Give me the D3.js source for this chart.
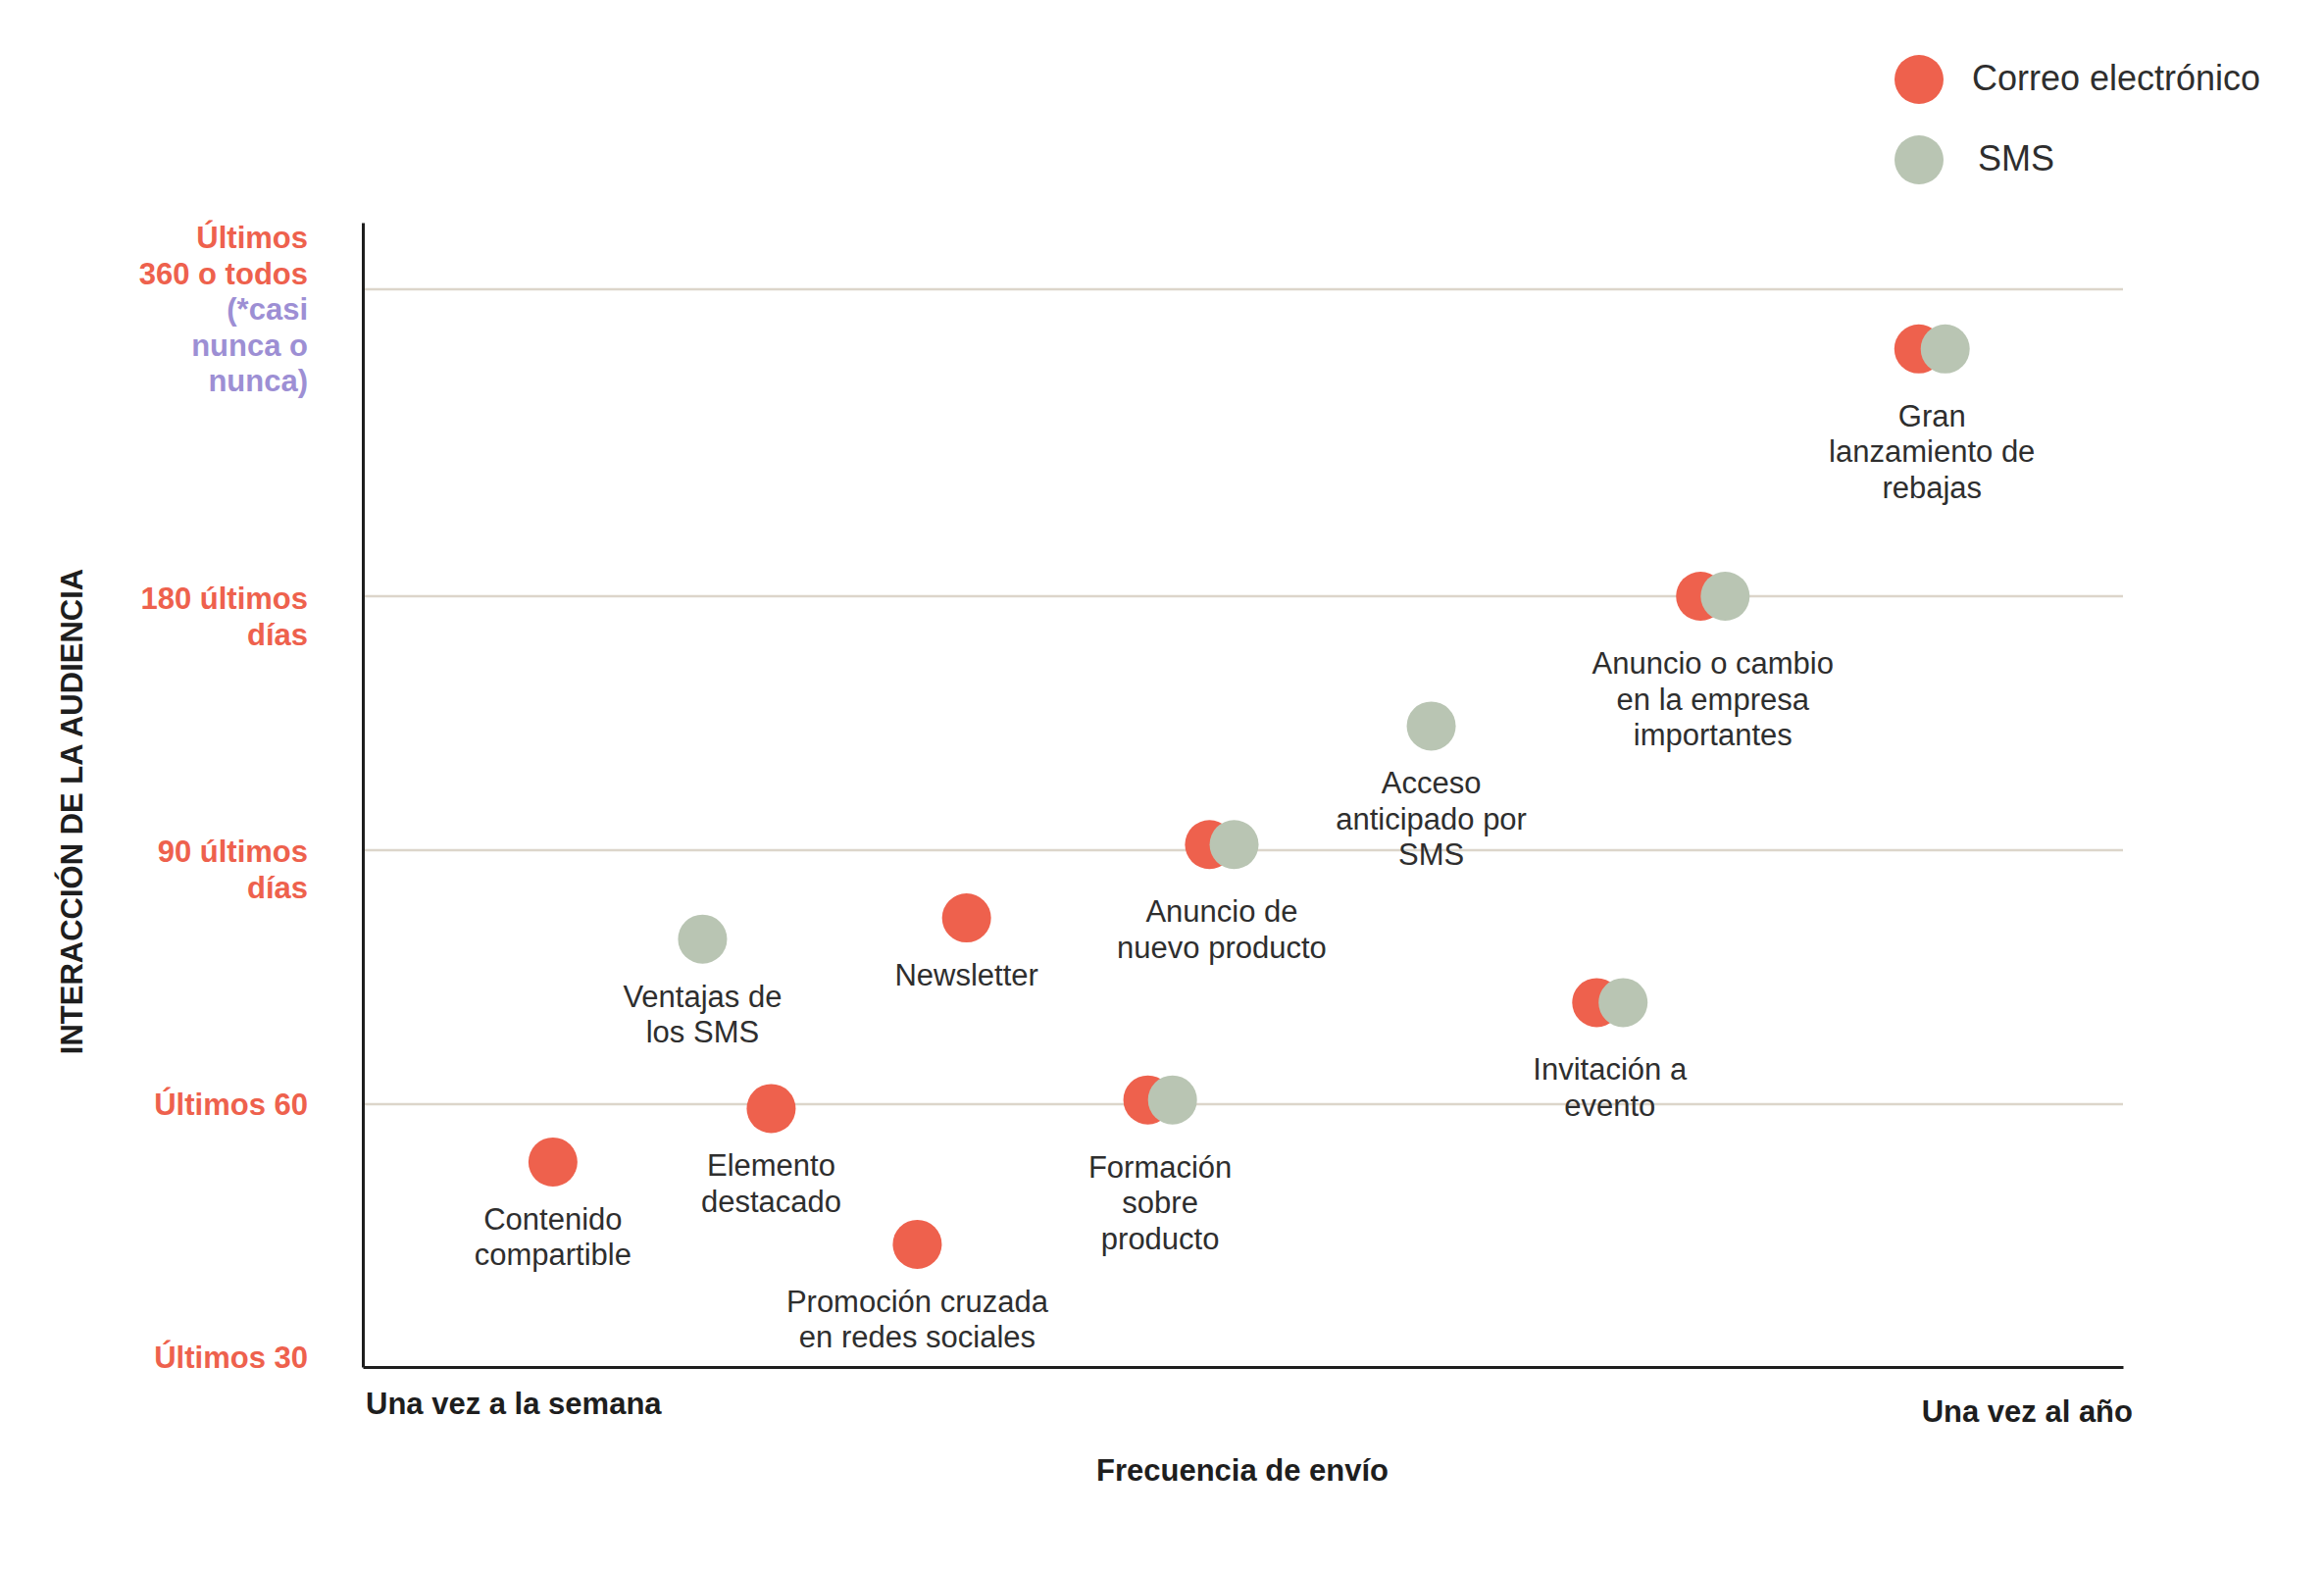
<!DOCTYPE html>
<html>
<head>
<meta charset="utf-8">
<script src="https://cdn.jsdelivr.net/npm/d3@7/dist/d3.min.js"></script>
<style>
  html, body { margin: 0; padding: 0; background: #ffffff; }
  svg { display: block; font-family: "Liberation Sans", Arial, Helvetica, sans-serif; }
</style>
</head>
<body>
<svg id="chart" width="2370" height="1600"></svg>
<script>
// ---------------- DATA ----------------
const categories = [
  "Gran lanzamiento de rebajas",
  "Anuncio o cambio en la empresa importantes",
  "Acceso anticipado por SMS",
  "Anuncio de nuevo producto",
  "Newsletter",
  "Ventajas de los SMS",
  "Invitación a evento",
  "Formación sobre producto",
  "Elemento destacado",
  "Contenido compartible",
  "Promoción cruzada en redes sociales"
];
const categoryLines = [
  ["Gran", "lanzamiento de", "rebajas"],
  ["Anuncio o cambio", "en la empresa", "importantes"],
  ["Acceso", "anticipado por", "SMS"],
  ["Anuncio de", "nuevo producto"],
  ["Newsletter"],
  ["Ventajas de", "los SMS"],
  ["Invitación a", "evento"],
  ["Formación", "sobre", "producto"],
  ["Elemento", "destacado"],
  ["Contenido", "compartible"],
  ["Promoción cruzada", "en redes sociales"]
];
// Frecuencia de envío (0 = una vez a la semana, 100 = una vez al año)
const emailFrequency = [88.4, 76.0, null, 48.1, 34.3, null, 70.1, 44.6, 23.2, 10.8, 31.5];
const smsFrequency   = [89.9, 77.4, 60.7, 49.5, null, 19.3, 71.6, 46.0, null, null, null];
// Interacción de la audiencia (días)
const engagementDays = [325, 180, 134, 92, 82, 79.5, 72, 60.5, 59.5, 53.4, 44];

const yTickValues = [30, 60, 90, 180, 360];
const yTickLabels = [
  ["Últimos 30"],
  ["Últimos 60"],
  ["90 últimos", "días"],
  ["180 últimos", "días"],
  ["Últimos", "360 o todos", "(*casi", "nunca o", "nunca)"]
];
const yTickNoteLines = [[], [], [], [], [2, 3, 4]]; // lines drawn in purple
const xEndLabels = ["Una vez a la semana", "Una vez al año"];
const xTitle = "Frecuencia de envío";
const yTitle = "INTERACCIÓN DE LA AUDIENCIA";
const seriesNames = ["Correo electrónico", "SMS"];

(function () {
// ---------------- STYLE / LAYOUT ----------------
const COLORS = { email: "#ee614d", sms: "#b9c5b3", note: "#9d8fd4", grid: "#dcd5ca", axis: "#1e1e1e", text: "#2e2e2e" };
const mLeft = 370, mRight = 2165, mTop = 227, mBottom = 1394;
const R = 25, FS = 31, LH = 36.5;

const svg = d3.select("#chart");

const x = d3.scaleLinear().domain([0, 100]).range([mLeft, mRight]);
const y = d3.scaleLinear().domain(yTickValues).range([mBottom, 1126, 867, 608, 295]);

// grid lines
svg.append("g").selectAll("line")
  .data(yTickValues.slice(1))
  .join("line")
  .attr("x1", mLeft).attr("x2", mRight)
  .attr("y1", d => y(d)).attr("y2", d => y(d))
  .attr("stroke", COLORS.grid).attr("stroke-width", 2.5);

// axes (domain lines only)
const xAxis = svg.append("g").attr("transform", `translate(0,${mBottom})`)
  .call(d3.axisBottom(x).tickValues([]).tickSizeOuter(0));
xAxis.select(".domain").attr("stroke", COLORS.axis).attr("stroke-width", 3);

const yAxisScale = d3.scaleLinear().domain([0, 1]).range([mBottom, mTop]);
const yAxis = svg.append("g").attr("transform", `translate(${mLeft},0)`)
  .call(d3.axisLeft(yAxisScale).tickValues([]).tickSizeOuter(0));
yAxis.select(".domain").attr("stroke", COLORS.axis).attr("stroke-width", 3);

// y tick labels
const tickOffsets = { 30: -10, 60: 0, 90: 1, 180: 2, 360: -53 };
const tickG = svg.append("g");
yTickValues.forEach((v, i) => {
  const t = tickG.append("text")
    .attr("x", 314)
    .attr("y", y(v) + tickOffsets[v])
    .attr("text-anchor", "end")
    .attr("font-size", FS)
    .attr("font-weight", "bold")
    .attr("dominant-baseline", "central");
  yTickLabels[i].forEach((line, j) => {
    t.append("tspan")
      .attr("x", 314)
      .attr("dy", j === 0 ? 0 : LH)
      .attr("fill", yTickNoteLines[i].includes(j) ? COLORS.note : COLORS.email)
      .text(line);
  });
});

// axis titles
svg.append("text")
  .attr("transform", `translate(73,${(mTop + mBottom) / 2 + 17}) rotate(-90)`)
  .attr("text-anchor", "middle").attr("dominant-baseline", "central")
  .attr("font-size", FS).attr("font-weight", "bold").attr("fill", "#1e1e1e")
  .text(yTitle);

svg.append("text")
  .attr("x", mLeft + 3).attr("y", 1431)
  .attr("dominant-baseline", "central")
  .attr("font-size", FS).attr("font-weight", "bold").attr("fill", "#1e1e1e")
  .text(xEndLabels[0]);
svg.append("text")
  .attr("x", 2175).attr("y", 1439)
  .attr("text-anchor", "end").attr("dominant-baseline", "central")
  .attr("font-size", FS).attr("font-weight", "bold").attr("fill", "#1e1e1e")
  .text(xEndLabels[1]);
svg.append("text")
  .attr("x", 1267).attr("y", 1499)
  .attr("text-anchor", "middle").attr("dominant-baseline", "central")
  .attr("font-size", FS).attr("font-weight", "bold").attr("fill", "#1e1e1e")
  .text(xTitle);

// points
const rows = categories.map((c, i) => ({
  name: c, lines: categoryLines[i],
  email: emailFrequency[i], sms: smsFrequency[i], days: engagementDays[i]
}));

svg.append("g").selectAll("circle")
  .data(rows.filter(d => d.email != null))
  .join("circle")
  .attr("cx", d => x(d.email)).attr("cy", d => y(d.days)).attr("r", R)
  .attr("fill", COLORS.email);

svg.append("g").selectAll("circle")
  .data(rows.filter(d => d.sms != null))
  .join("circle")
  .attr("cx", d => x(d.sms)).attr("cy", d => y(d.days)).attr("r", R)
  .attr("fill", COLORS.sms);

// point labels
const labelG = svg.append("g");
rows.forEach(d => {
  const xs = [d.email, d.sms].filter(v => v != null).map(v => x(v));
  const cx = d3.mean(xs);
  const gap = xs.length > 1 ? 68 : 58;
  const t = labelG.append("text")
    .attr("x", cx).attr("y", y(d.days) + gap)
    .attr("text-anchor", "middle").attr("dominant-baseline", "central")
    .attr("font-size", FS).attr("fill", COLORS.text);
  d.lines.forEach((line, j) => {
    t.append("tspan").attr("x", cx).attr("dy", j === 0 ? 0 : LH).text(line);
  });
});

// legend
const legend = svg.append("g");
const legendColors = [COLORS.email, COLORS.sms];
const legendTextX = [2011, 2017];
seriesNames.forEach((s, i) => {
  const cy = 81 + i * 82;
  legend.append("circle").attr("cx", 1957).attr("cy", cy).attr("r", R).attr("fill", legendColors[i]);
  legend.append("text").attr("x", legendTextX[i]).attr("y", cy - 2)
    .attr("dominant-baseline", "central").attr("font-size", 36).attr("fill", COLORS.text)
    .text(s);
});
})();
</script>
</body>
</html>
